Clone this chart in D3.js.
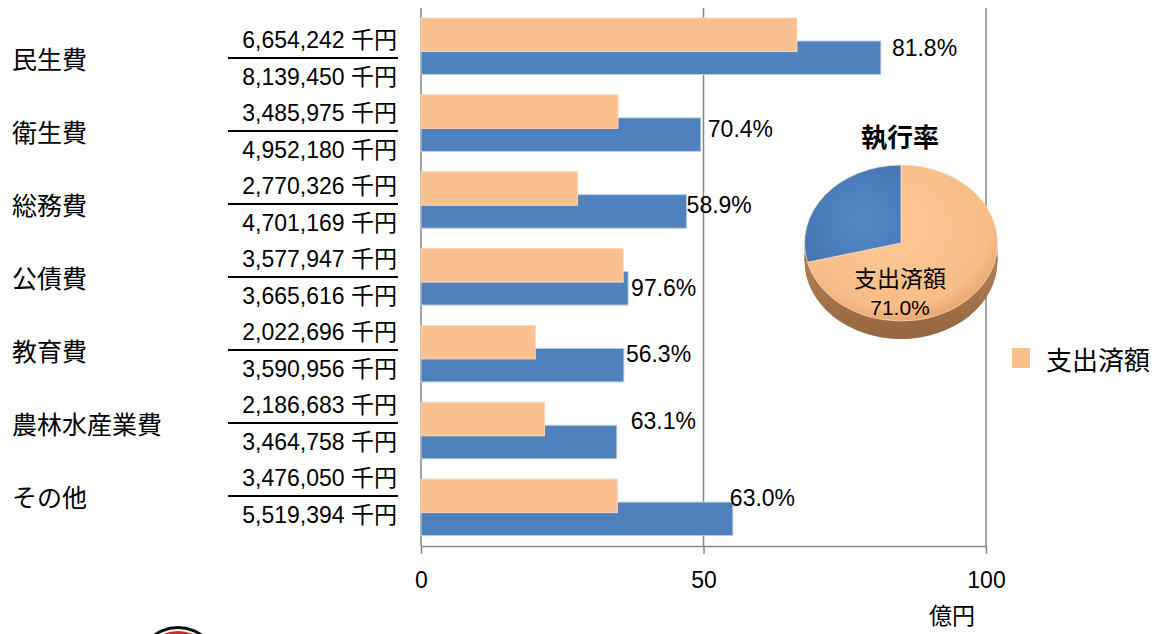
<!DOCTYPE html>
<html>
<head>
<meta charset="utf-8">
<script src="https://cdn.jsdelivr.net/npm/d3@7"></script>
<style>
  html, body { margin: 0; padding: 0; background: #fff; }
  svg { display: block; }
</style>
</head>
<body>
<svg id="chart" width="1157" height="634"></svg>
<script>
// ---- data ----
const categories = ["民生費", "衛生費", "総務費", "公債費", "教育費", "農林水産業費", "その他"];
const paid   = [6654242, 3485975, 2770326, 3577947, 2022696, 2186683, 3476050]; // 支出済額 (千円)
const budget = [8139450, 4952180, 4701169, 3665616, 3590956, 3464758, 5519394]; // 予算額 (千円)
const xTicks = [0, 50, 100];
const unitLabel = "億円";
const legendLabel = "支出済額";
const pieTitle = "執行率";
const numberUnit = "千円";

// ---- layout tweaks for percent labels (placement only) ----
const labelDx = [11, 7, 0, 3, 2, 14, -3];
const labelDy = [-10, -6, -6, 0, -11, -21, -21];

const ORANGE = "#fac090", BLUE = "#4f81bd", GRID = "#868686";
const CJK = "'Noto Sans CJK JP', sans-serif";
const LAT = "'Liberation Sans', 'Noto Sans CJK JP', sans-serif";

const svg = d3.select("#chart");
const toOku = v => v / 100000;

const x = d3.scaleLinear().domain([0, 100]).range([421, 986]);
const y = d3.scaleBand().domain(categories).range([7.35, 545.3]).padding(0);
const bw = y.bandwidth();
const yLab = d3.scalePoint().domain(categories).range([58, 496]);

// gridlines (incl. left axis line)
svg.append("g").selectAll("line").data(xTicks).join("line")
  .attr("x1", d => x(d)).attr("x2", d => x(d))
  .attr("y1", 8).attr("y2", 546)
  .attr("stroke", GRID).attr("stroke-width", 1.5);

// bottom axis
const axis = svg.append("g").attr("transform", "translate(0,546)")
  .call(d3.axisBottom(x).tickValues(xTicks).tickSize(8).tickPadding(18).tickSizeOuter(0));
axis.select(".domain").attr("stroke", GRID).attr("stroke-width", 1.5);
axis.selectAll(".tick line").attr("stroke", GRID).attr("stroke-width", 1.5);
axis.selectAll(".tick text").attr("fill", "#000").style("font-family", LAT).style("font-size", "23px");

// bars: blue (budget) then orange (paid) on top
const rows = categories.map((c, i) => ({ c, i, paid: paid[i], budget: budget[i] }));
svg.append("g").selectAll("rect").data(rows).join("rect")
  .attr("x", x(0)).attr("y", d => y(d.c) + bw * 0.438)
  .attr("width", d => x(toOku(d.budget)) - x(0)).attr("height", bw * 0.436)
  .attr("fill", BLUE).attr("stroke", "#b9cde5").attr("stroke-width", 1);
svg.append("g").selectAll("rect").data(rows).join("rect")
  .attr("x", x(0)).attr("y", d => y(d.c) + bw * 0.139)
  .attr("width", d => x(toOku(d.paid)) - x(0)).attr("height", bw * 0.436)
  .attr("fill", ORANGE).attr("stroke", "#fcd5b4").attr("stroke-width", 1);

// percent labels
const pct = d3.format(".1%");
svg.append("g").selectAll("text").data(rows).join("text")
  .attr("x", d => x(toOku(d.budget)) + labelDx[d.i])
  .attr("y", d => y(d.c) + bw * 0.438 + bw * 0.218 + labelDy[d.i])
  .attr("dominant-baseline", "central")
  .style("font-family", LAT).style("font-size", "23px")
  .text(d => pct(d.paid / d.budget));

// left labels
const fmt = d3.format(",");
const left = svg.append("g");
left.selectAll("text.cat").data(rows).join("text").attr("class", "cat")
  .attr("x", 12).attr("y", d => yLab(d.c)).attr("dominant-baseline", "central")
  .style("font-family", CJK).style("font-size", "25px").text(d => d.c);
left.selectAll("line").data(rows).join("line")
  .attr("x1", 228).attr("x2", 398)
  .attr("y1", d => yLab(d.c)).attr("y2", d => yLab(d.c))
  .attr("stroke", "#000").attr("stroke-width", 2);
left.selectAll("text.num").data(rows).join("text").attr("class", "num")
  .attr("x", 397).attr("y", d => yLab(d.c) - 18).attr("text-anchor", "end")
  .attr("dominant-baseline", "central")
  .style("font-family", LAT).style("font-size", "23px")
  .text(d => fmt(d.paid) + " " + numberUnit);
left.selectAll("text.den").data(rows).join("text").attr("class", "den")
  .attr("x", 397).attr("y", d => yLab(d.c) + 19).attr("text-anchor", "end")
  .attr("dominant-baseline", "central")
  .style("font-family", LAT).style("font-size", "23px")
  .text(d => fmt(d.budget) + " " + numberUnit);

// unit label
svg.append("text").attr("x", 952).attr("y", 614).attr("text-anchor", "middle")
  .attr("dominant-baseline", "central")
  .style("font-family", CJK).style("font-size", "23px").text(unitLabel);

// ---- pie (execution rate) ----
const totalPaid = d3.sum(paid), totalBudget = d3.sum(budget);
const cx = 901, cy = 243, rx = 96.5, ry = 78, depth = 18;
const defs = svg.append("defs");
const sideGrad = defs.append("linearGradient").attr("id", "side").attr("x1", 0).attr("x2", 0).attr("y1", 0).attr("y2", 1);
sideGrad.append("stop").attr("offset", "0%").attr("stop-color", "#d09a68");
sideGrad.append("stop").attr("offset", "100%").attr("stop-color", "#946540");
const oGrad = defs.append("radialGradient").attr("id", "og").attr("cx", "45%").attr("cy", "40%").attr("r", "60%");
oGrad.append("stop").attr("offset", "0%").attr("stop-color", "#fcc896");
oGrad.append("stop").attr("offset", "85%").attr("stop-color", "#f8bd88");
oGrad.append("stop").attr("offset", "100%").attr("stop-color", "#eaa970");
const bGrad = defs.append("radialGradient").attr("id", "bg").attr("cx", "60%").attr("cy", "55%").attr("r", "70%");
bGrad.append("stop").attr("offset", "0%").attr("stop-color", "#5388c6");
bGrad.append("stop").attr("offset", "100%").attr("stop-color", "#4576b4");

const pieG = svg.append("g");
pieG.append("ellipse").attr("cx", cx).attr("cy", cy + depth).attr("rx", rx).attr("ry", ry).attr("fill", "url(#side)");
pieG.append("rect").attr("x", cx - rx).attr("y", cy).attr("width", 2 * rx).attr("height", depth).attr("fill", "url(#side)");

const pieData = d3.pie().sort(null).value(d => d.v)([
  { k: "paid", v: totalPaid },
  { k: "rest", v: totalBudget - totalPaid }
]);
const arc = d3.arc().innerRadius(0).outerRadius(rx);
pieG.append("g").attr("transform", `translate(${cx},${cy}) scale(1,${ry / rx})`)
  .selectAll("path").data(pieData).join("path")
  .attr("d", arc)
  .attr("fill", d => d.data.k === "paid" ? "url(#og)" : "url(#bg)")
  .attr("stroke", "#fde3cc").attr("stroke-width", 0.8);

svg.append("text").attr("x", 900).attr("y", 135).attr("text-anchor", "middle")
  .attr("dominant-baseline", "central")
  .style("font-family", CJK).style("font-size", "26px").style("font-weight", "bold").text(pieTitle);
svg.append("text").attr("x", 900).attr("y", 277).attr("text-anchor", "middle")
  .attr("dominant-baseline", "central")
  .style("font-family", CJK).style("font-size", "23px").text(legendLabel);
svg.append("text").attr("x", 900).attr("y", 307).attr("text-anchor", "middle")
  .attr("dominant-baseline", "central")
  .style("font-family", LAT).style("font-size", "21px").text(pct(totalPaid / totalBudget));

// legend
svg.append("rect").attr("x", 1012).attr("y", 348).attr("width", 18).attr("height", 20).attr("fill", ORANGE);
svg.append("text").attr("x", 1046).attr("y", 358).attr("dominant-baseline", "central")
  .style("font-family", CJK).style("font-size", "26px").text(legendLabel);

// partial logo at bottom edge
const logo = svg.append("g");
logo.append("circle").attr("cx", 178).attr("cy", 668).attr("r", 42).attr("fill", "#111");
logo.append("circle").attr("cx", 178).attr("cy", 668).attr("r", 39).attr("fill", "#fff");
logo.append("circle").attr("cx", 178).attr("cy", 668).attr("r", 37).attr("fill", "#d42626");
</script>
</body>
</html>
